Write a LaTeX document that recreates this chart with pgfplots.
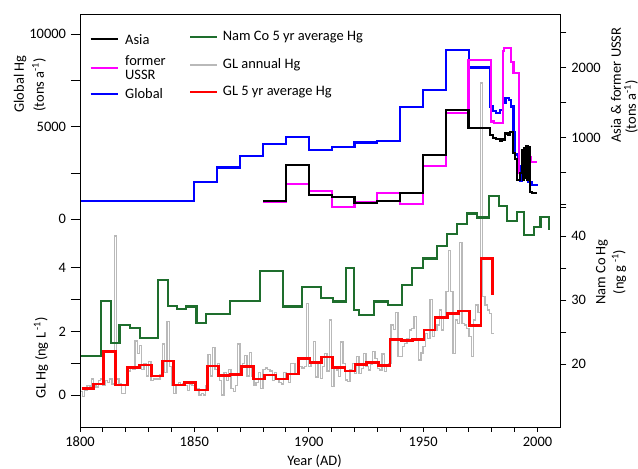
\documentclass[border=0pt]{standalone}
\usepackage{fontspec}
\setmainfont{Carlito}
\usepackage{pgfplots}
\pgfplotsset{compat=1.18}
\definecolor{namco}{RGB}{30,110,45}
\definecolor{glgray}{RGB}{185,185,185}
\definecolor{usr}{RGB}{255,0,255}
\newcommand{\fs}{\fontsize{14.5}{17}\selectfont}
\pgfplotsset{
  base/.style={scale only axis, width=480.4bp, height=413bp,
    at={(80bp,41.3bp)}, anchor=south west, xmin=1800, xmax=2010,
    /pgf/number format/1000 sep={}, /pgf/number format/assume math mode=true,
    scaled ticks=false, tick align=outside,
    tick label style={font=\fs, black},
    tick style={black, line width=0.8bp},
    axis line style={line width=1bp}},
  sec/.style={base, hide x axis, axis line style={draw=none}},
}
\begin{document}
\fs
\begin{tikzpicture}
\path[use as bounding box] (0,0) rectangle (638bp,469bp);
% GL axis (left bottom)
\begin{axis}[sec, ymin=-1.027, ymax=11.95, ytick pos=left,
  ytick={0,2,4}, minor ytick={1,3}, major tick length=9bp, minor tick length=9bp]
\addplot[const plot mark left, glgray, line width=1.3bp] table {
1800 0.10
1801 -0.05
1802 0.15
1803 0.30
1804 0.28
1805 0.50
1806 0.35
1807 0.25
1808 0.45
1809 0.50
1810 0.30
1811 0.45
1812 0.40
1813 0.50
1814 0.35
1815 5.00
1816 0.50
1817 0.35
1818 0.05
1819 0.05
1820 0.30
1821 0.75
1822 0.85
1823 0.80
1824 1.70
1825 1.30
1826 1.55
1827 0.80
1828 1.00
1829 0.60
1830 1.05
1831 0.45
1832 0.50
1833 0.50
1834 0.50
1835 0.65
1836 1.60
1837 0.70
1838 2.30
1839 0.90
1840 0.30
1841 0.05
1842 0.30
1843 0.40
1844 0.30
1845 0.35
1846 0.30
1847 0.15
1848 0.35
1849 0.30
1850 0.15
1851 0.20
1852 0.00
1853 0.05
1854 0.00
1855 0.30
1856 1.27
1857 0.60
1858 1.50
1859 0.80
1860 1.00
1861 0.45
1862 0.00
1863 0.70
1864 0.45
1865 0.80
1866 0.20
1867 0.10
1868 0.30
1869 1.60
1870 0.70
1871 1.00
1872 1.25
1873 0.60
1874 1.33
1875 0.60
1876 0.30
1877 0.40
1878 0.70
1879 0.20
1880 0.80
1881 0.85
1882 0.80
1883 0.75
1884 0.45
1885 0.70
1886 0.50
1887 0.40
1888 0.35
1889 0.70
1890 0.50
1891 0.40
1892 1.00
1893 1.00
1894 0.65
1895 0.85
1896 0.90
1897 0.85
1898 0.90
1899 2.88
1900 0.90
1901 1.00
1902 1.68
1903 0.57
1904 1.00
1905 0.52
1906 0.89
1907 1.31
1908 0.75
1909 2.36
1910 0.26
1911 0.84
1912 0.79
1913 0.58
1914 1.67
1915 1.00
1916 0.47
1917 0.42
1918 0.79
1919 1.00
1920 0.68
1921 1.20
1922 0.68
1923 0.84
1924 1.31
1925 0.89
1926 0.79
1927 0.95
1928 1.36
1929 1.15
1930 0.84
1931 0.79
1932 1.29
1933 0.73
1934 0.90
1935 1.00
1936 2.20
1937 2.05
1938 2.59
1939 1.20
1940 1.20
1941 1.52
1942 1.62
1943 1.78
1944 2.04
1945 2.09
1946 2.46
1947 1.75
1948 1.10
1949 1.32
1950 1.52
1951 1.94
1952 1.78
1953 3.00
1954 1.83
1955 2.04
1956 2.20
1957 2.67
1958 2.04
1959 2.41
1960 3.25
1961 4.55
1962 3.25
1963 1.30
1964 2.36
1965 2.25
1966 4.79
1967 2.25
1968 2.20
1969 2.10
1970 1.83
1971 1.20
1972 2.36
1973 2.83
1974 2.60
1975 9.80
1976 3.10
1977 2.83
1978 2.67
1979 2.57
1980 1.93
1981 1.93
};
\addplot[const plot mark left, red, line width=2.6bp] coordinates {
(1800.7,0.20) (1806.0,0.34) (1810.3,1.36) (1815.6,0.31) (1820.8,0.87)
(1825.9,0.94) (1831.3,0.60) (1836.1,1.07) (1840.8,0.31) (1845.6,0.40)
(1850.6,0.16) (1855.7,0.91) (1860.5,0.61) (1865.6,0.65) (1870.7,0.89)
(1875.8,0.50) (1880.6,0.63) (1885.7,0.50) (1890.6,0.66) (1895.4,1.15)
(1900.5,1.02) (1905.6,1.20) (1910.5,0.86) (1915.8,0.76) (1920.2,0.96)
(1925.3,1.03) (1930.4,0.92) (1935.5,1.75) (1940.6,1.71) (1945.4,1.75)
(1950.4,2.04) (1955.2,2.43) (1960.6,2.57) (1965.4,2.64) (1970.2,2.18)
(1975.3,4.29) (1980.2,3.14)};
\end{axis}
% Global axis (left top)
\begin{axis}[sec, ymin=-11265, ymax=11059, ytick pos=left,
  ytick={0,5000,10000}, minor ytick={2500,7500}, major tick length=9bp, minor tick length=9bp]
\addplot[const plot mark left, blue, line width=2.2bp] coordinates {
(1800,1000) (1850,2000) (1860,2800) (1870,3400) (1880,4050) (1890,4450)
(1900,3750) (1910,3900) (1920,4150) (1930,4250) (1940,6050) (1950,7000)
(1960,9150) (1970,8200) (1979.4,6100) (1980.5,5850) (1982,5750) (1983.6,5900)
(1985,6300) (1986,6560) (1987.5,6450) (1988.5,6100) (1989.5,4700) (1990.3,3500)
(1991.5,2900) (1992.3,2100) (1993.1,3500) (1994.5,2600) (1996,2030)
(1997.5,1850) (2000,1850)};
\end{axis}
% Asia & former USSR (right top)
\begin{axis}[sec, ymin=-3143, ymax=2757, ytick pos=right,
  ytick={0,500,1000,1500,2000,2500}, yticklabels={,,1000,,2000,},
  major tick length=6bp]
\addplot[const plot mark left, usr, line width=2.2bp] coordinates {
(1880,86) (1890,334) (1900,235) (1910,14) (1920,77) (1930,214) (1940,53)
(1950,600) (1960,1349) (1969.8,2115) (1979.5,1230) (1981,1205) (1984.8,2240)
(1985.5,2285) (1988.5,2086) (1989.5,1920) (1991.9,500) (1995.6,729)
(1997,657) (1999.7,657)};
\addplot[const plot mark left, black, line width=2.2bp] coordinates {
(1880,100) (1890,610) (1900,185) (1910,150) (1920,65) (1930,96) (1940,214)
(1950,753) (1960,1396) (1969.8,1134) (1979.2,1036) (1980.7,1000) (1982,980)
(1983.5,960) (1984.5,975) (1985.8,1060) (1987,1040) (1988,1086) (1989.4,780)
(1990.2,700) (1990.9,396) (1992.3,491) (1993.1,820) (1993.6,400) (1994.1,850)
(1994.6,420) (1995.1,880) (1995.6,400) (1996.1,860) (1996.7,229) (1997.5,206)
(1999.6,206)};
\end{axis}
% Nam Co (right bottom)
\begin{axis}[sec, ymin=10.12, ymax=74.5, ytick pos=right,
  ytick={20,25,30,35,40,45}, yticklabels={20,,30,,40,},
  major tick length=6bp]
\addplot[const plot mark left, namco, line width=2.2bp] coordinates {
(1800,21.3) (1809.3,29.9) (1813.4,23.3) (1817.3,26.1) (1821.7,25.6)
(1826.1,24.05) (1834.1,33.1) (1838.5,29.1) (1842.5,28.6) (1846.5,29.0)
(1850.9,26.4) (1855,27.9) (1865.6,29.9) (1878.6,34.6) (1888.8,29.0)
(1897.2,32.1) (1905.2,30.3) (1910.7,29.8) (1916.3,35.0) (1919.9,28.5)
(1922.1,27.7) (1928.5,29.8) (1934.8,29.2) (1940.6,32.4) (1945,35.0)
(1950.1,36.5) (1955.9,38.4) (1960.5,40.3) (1964.7,41.9) (1969,43.5)
(1973.4,42.9) (1978.8,46.2) (1983.2,44.7) (1986.7,42.3) (1990.9,43.8)
(1994.1,40.2) (1998.4,41.4) (2001.3,43.0) (2005,40.9)};
\end{axis}
% frame and x axis
\begin{axis}[base, ymin=0, ymax=1, ytick=\empty,
  xtick={1800,1850,1900,1950,2000}, minor x tick num=4, xtick pos=bottom,
  major tick length=4bp, minor tick length=4bp]
\end{axis}
% legend
\draw[black, line width=2.2bp] (90.7bp,430bp) -- (118.3bp,430bp);
\node[anchor=base west, inner sep=0pt] at (125bp,424.7bp) {Asia};
\draw[usr, line width=2.2bp] (90.7bp,401.3bp) -- (118.3bp,401.3bp);
\node[anchor=base west, inner sep=0pt] at (125bp,403.3bp) {former};
\node[anchor=base west, inner sep=0pt] at (125bp,389.3bp) {USSR};
\draw[blue, line width=2.2bp] (90.7bp,374.7bp) -- (118.3bp,374.7bp);
\node[anchor=base west, inner sep=0pt] at (125bp,370.2bp) {Global};
\draw[namco, line width=2.2bp] (190bp,432.3bp) -- (216.7bp,432.3bp);
\node[anchor=base west, inner sep=0pt] at (222.7bp,428.3bp) {Nam Co 5 yr average Hg};
\draw[glgray, line width=2bp] (190bp,404bp) -- (216.7bp,404bp);
\node[anchor=base west, inner sep=0pt] at (222.7bp,400.7bp) {GL annual Hg};
\draw[red, line width=2.2bp] (190bp,376.7bp) -- (216.7bp,376.7bp);
\node[anchor=base west, inner sep=0pt] at (222.7bp,373.3bp) {GL 5 yr average Hg};
% axis labels
\node[rotate=90] at (20bp,385bp) {Global Hg};
\node[rotate=90] at (39bp,384bp) {(tons a\textsuperscript{-1})};
\node[rotate=90] at (41bp,111bp) {GL Hg (ng L\textsuperscript{ -1})};
\node[rotate=90] at (616bp,384bp) {Asia \& former USSR};
\node[rotate=90] at (631bp,362bp) {(tons a\textsuperscript{-1})};
\node[rotate=90] at (602bp,197bp) {Nam Co Hg};
\node[rotate=90] at (619bp,197bp) {(ng g\textsuperscript{ -1})};
\node at (314.5bp,8bp) {Year (AD)};
\end{tikzpicture}
\end{document}
